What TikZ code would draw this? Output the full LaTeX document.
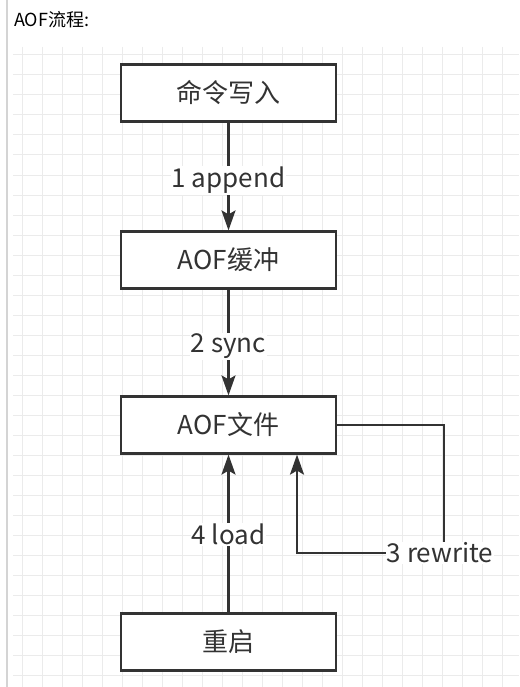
\documentclass[tikz,border=0pt]{standalone}
\usepackage{fontspec}
\setmainfont{Noto Sans CJK SC}
\usetikzlibrary{arrows.meta}
\definecolor{ink}{HTML}{333333}
\definecolor{gridc}{HTML}{EBEBEB}
\definecolor{rulec}{HTML}{D4D4D4}
\begin{document}
\begin{tikzpicture}[x=1pt,y=-1pt,
  box/.style={draw=ink, line width=2.2pt, fill=white, minimum width=215pt, minimum height=57pt, inner sep=0pt, font=\fontsize{26}{30}\selectfont, text=ink},
  lbl/.style={fill=white, inner sep=1pt, font=\fontsize{26}{30}\selectfont, text=ink},
  conn/.style={draw=ink, line width=2.2pt, -{Stealth[length=20pt,width=14pt,inset=4pt]}}]
\useasboundingbox (0,0) rectangle (519,687);
\fill[white] (0,0) rectangle (519,687);
\begin{scope}
  \clip (13,47) rectangle (519,687);
  \foreach \x in {22.7,42.7,...,519} \draw[gridc, line width=1pt] (\x,47) -- (\x,687);
  \foreach \y in {55,75,...,687} \draw[gridc, line width=1pt] (13,\y) -- (519,\y);
\end{scope}
\draw[rulec, line width=1.2pt] (7,0) -- (7,687);
\node[anchor=base west, inner sep=0pt, font=\fontsize{18}{20}\selectfont, text=black] (title) at (14,27) {AOF流程:};

\node[box] (cmd) at (228.5,93) {命令写入};
\node[box] (buf) at (228.5,260) {AOF缓冲};
\node[box] (file) at (228.5,425) {AOF文件};
\node[box] (restart) at (228.5,642) {重启};

\draw[conn] (cmd.south) -- (buf.north) node[lbl, midway, yshift=-4pt] (l1) {1 append};
\draw[conn] (buf.south) -- (file.north) node[lbl, midway, yshift=-4pt] (l2) {2 sync};
\draw[conn] (restart.north) -- (file.south) node[lbl, midway, yshift=-1pt] (l4) {4 load};

\coordinate (rc) at (444,553);
\coordinate (rl) at (297,553);
\draw[conn] (file.east) -| (rc) -- (rl) -- (rl |- file.south);
\node[lbl] (rw) at (440,553) {3 rewrite};
\end{tikzpicture}
\end{document}
